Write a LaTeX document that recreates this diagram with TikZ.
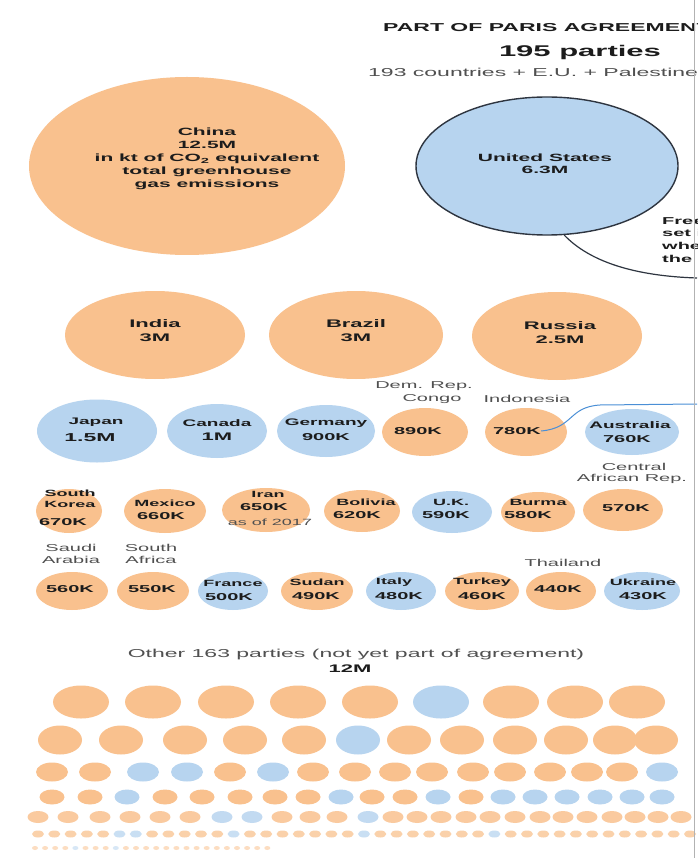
\documentclass[tikz,border=0pt]{standalone}
\usepackage{fontspec}
\setmainfont{Liberation Sans}[FakeStretch=2.0]
\usetikzlibrary{shapes.geometric}
\definecolor{cO}{HTML}{F9C18E}
\definecolor{cB}{HTML}{B7D4EF}
\definecolor{ink}{HTML}{1C1C1C}
\definecolor{grayt}{HTML}{505050}
\definecolor{edgeC}{HTML}{2E3540}
\definecolor{calloutB}{HTML}{4A8FD6}
\tikzset{
  ell/.style={ellipse, inner sep=0pt, draw=none},
  po/.style={ell, fill=cO},
  pb/.style={ell, fill=cB},
  lab/.style={align=center, text=ink, inner sep=0pt},
  nm/.style={lab, font=\fontsize{9}{10}\selectfont\bfseries},
  vl/.style={lab, font=\fontsize{10}{11}\selectfont\bfseries},
  ol/.style={align=center, text=grayt, inner sep=0pt, font=\fontsize{10}{12}\selectfont},
}
\begin{document}
\begin{tikzpicture}[x=1pt,y=-1pt]
\useasboundingbox (0,0) rectangle (697,858);
\fill[white] (0,0) rectangle (697,858);
\begin{scope}
\clip (0,0) rectangle (697,858);
% header
\node[anchor=west, text=ink, inner sep=0pt, font=\fontsize{11.5}{13}\selectfont\bfseries] (title) at (383,28) {PART OF PARIS AGREEMENT};
\node[text=ink, inner sep=0pt, font=\fontsize{15.5}{17}\selectfont\bfseries] (parties) at (580,52) {195 parties};
\node[anchor=west, text=grayt, inner sep=0pt, font=\fontsize{11.5}{13}\selectfont] (sub) at (368,72) {193 countries + E.U. + Palestine};

% China
\node[po, minimum width=316, minimum height=178] (china) at (187,166) {};
\node[lab, font=\fontsize{10.5}{13}\selectfont\bfseries] (chinaL) at (207,159) {China\\12.5M\\in kt of CO\textsubscript{2} equivalent\\total greenhouse\\gas emissions};

% United States
\node[pb, draw=edgeC, line width=1.4pt, minimum width=262, minimum height=138] (us) at (547,166) {};
\node[lab, font=\fontsize{10.5}{12}\selectfont\bfseries] (usL) at (545,164) {United States\\6.3M};
\coordinate (usnote) at (697,278);
\draw[edgeC, line width=1.2pt] (us.-76) .. controls (590,262) and (635,276) .. (usnote);
\node[anchor=north west, align=left, text=ink, inner sep=0pt, font=\fontsize{10}{12.8}\selectfont\bfseries] (noteL) at (662,217) {Free to\\set its\\when it\\the deal};

% row 2
\node[po, minimum width=180, minimum height=88] (india) at (155,335) {};
\node[lab, font=\fontsize{11}{14}\selectfont\bfseries] (indiaL) at (155,331) {India\\3M};
\node[po, minimum width=174, minimum height=88] (brazil) at (356,335) {};
\node[lab, font=\fontsize{11}{14}\selectfont\bfseries] (brazilL) at (356,331) {Brazil\\3M};
\node[po, minimum width=170, minimum height=88] (russia) at (557,336) {};
\node[lab, font=\fontsize{11}{14}\selectfont\bfseries] (russiaL) at (560,333) {Russia\\2.5M};

% row 3
\node[pb, minimum width=120, minimum height=63] (japan) at (97,431) {};
\node[nm, font=\fontsize{9.5}{11}\selectfont\bfseries] (japanN) at (96,422) {Japan};
\node[vl, font=\fontsize{11.5}{12}\selectfont\bfseries] (japanV) at (90,438) {1.5M};
\node[pb, minimum width=100, minimum height=54] (canada) at (217,431) {};
\node[nm, font=\fontsize{9.5}{11}\selectfont\bfseries] (canadaN) at (217,423) {Canada};
\node[vl, font=\fontsize{11}{12}\selectfont\bfseries] (canadaV) at (217,437) {1M};
\node[pb, minimum width=98, minimum height=52] (germany) at (326,431) {};
\node[nm, font=\fontsize{9.5}{11}\selectfont\bfseries] (germanyN) at (326,423) {Germany};
\node[vl] (germanyV) at (326,437) {900K};
\node[po, minimum width=86, minimum height=48] (drc) at (425,432) {};
\node[vl] (drcV) at (418,431) {890K};
\node[po, minimum width=82, minimum height=48] (indo) at (526,432) {};
\node[vl] (indoV) at (517,431) {780K};
\node[pb, minimum width=94, minimum height=46] (austr) at (632,432) {};
\node[nm, font=\fontsize{9.5}{11}\selectfont\bfseries] (austrN) at (630,425) {Australia};
\node[vl] (austrV) at (627,439) {760K};
\node[ol] (drcT) at (424,386) {Dem. Rep.};
\node[ol] (drcT2) at (432,399) {Congo};
\node[ol] (indoT) at (527,399) {Indonesia};
\coordinate (indonote) at (697,404);
\draw[calloutB, line width=1pt] (indoV.east) .. controls (574,428) and (568,407) .. (600,405) -- (indonote);

% row 4
\node[po, minimum width=66, minimum height=44] (skorea) at (69,511) {};
\node[nm, font=\fontsize{9}{11.5}\selectfont\bfseries] (skoreaN) at (70,499) {South\\Korea};
\node[vl] (skoreaV) at (63,522) {670K};
\node[po, minimum width=82, minimum height=44] (mexico) at (165,511) {};
\node[nm] (mexicoN) at (165,503) {Mexico};
\node[vl] (mexicoV) at (161,516) {660K};
\node[po, minimum width=88, minimum height=44] (iran) at (266,510) {};
\node[nm] (iranN) at (268,494) {Iran};
\node[vl] (iranV) at (264,507) {650K};
\node[ol, font=\fontsize{9}{11}\selectfont] (iranT) at (270,522) {as of 2017};
\node[po, minimum width=76, minimum height=42] (bolivia) at (362,511) {};
\node[nm] (boliviaN) at (366,502) {Bolivia};
\node[vl] (boliviaV) at (357,515) {620K};
\node[pb, minimum width=80, minimum height=42] (uk) at (452,512) {};
\node[nm] (ukN) at (451,502) {U.K.};
\node[vl] (ukV) at (446,515) {590K};
\node[po, minimum width=74, minimum height=40] (burma) at (538,512) {};
\node[nm] (burmaN) at (538,502) {Burma};
\node[vl] (burmaV) at (528,515) {580K};
\node[po, minimum width=80, minimum height=42] (car) at (623,510) {};
\node[vl] (carV) at (626,508) {570K};
\node[ol] (carT) at (634,467) {Central};
\node[ol] (carT2) at (632,479) {African Rep.};

% row 5
\node[ol] (saudiT) at (71,554) {Saudi\\Arabia};
\node[ol] (safT) at (151,554) {South\\Africa};
\node[ol] (thaiT) at (563,563) {Thailand};
\node[po, minimum width=72, minimum height=38] (saudi) at (72,591) {};
\node[vl] (saudiV) at (70,589) {560K};
\node[po, minimum width=72, minimum height=38] (saf) at (153,591) {};
\node[vl] (safV) at (152,589) {550K};
\node[pb, minimum width=70, minimum height=38] (france) at (233,591) {};
\node[nm] (franceN) at (233,583) {France};
\node[vl] (franceV) at (229,597) {500K};
\node[po, minimum width=72, minimum height=38] (sudan) at (317,591) {};
\node[nm] (sudanN) at (317,582) {Sudan};
\node[vl] (sudanV) at (316,596) {490K};
\node[pb, minimum width=70, minimum height=38] (italy) at (401,591) {};
\node[nm] (italyN) at (394,582) {Italy};
\node[vl] (italyV) at (399,596) {480K};
\node[po, minimum width=74, minimum height=38] (turkey) at (482,591) {};
\node[nm] (turkeyN) at (482,582) {Turkey};
\node[vl] (turkeyV) at (482,596) {460K};
\node[po, minimum width=70, minimum height=38] (thai) at (561,591) {};
\node[vl] (thaiV) at (558,589) {440K};
\node[pb, minimum width=76, minimum height=38] (ukraine) at (642,591) {};
\node[nm] (ukraineN) at (643,582) {Ukraine};
\node[vl] (ukraineV) at (643,596) {430K};

% others
\node[text=grayt, inner sep=0pt, font=\fontsize{11.5}{13}\selectfont] (otherT) at (356,655) {Other 163 parties (not yet part of agreement)};
\node[text=ink, inner sep=0pt, font=\fontsize{11}{13}\selectfont\bfseries] (otherV) at (350,669) {12M};

\foreach \x/\c [count=\i] in {81/O,153/O,226/O,298/O,370/O,441/B,511/O,575/O,637/O}
  \node[ell, fill=c\c, minimum width=56, minimum height=33] (ra\i) at (\x,702) {};
\foreach \x/\c [count=\i] in {60/O,121/O,185/O,245/O,304/O,358/B,409/O,462/O,515/O,566/O,615/O,656/O}
  \node[ell, fill=c\c, minimum width=44, minimum height=29] (rb\i) at (\x,740) {};
\foreach \x/\c [count=\i] in {52/O,95/O,143/B,187/B,230/O,273/B,313/O,355/O,395/O,432/O,473/O,510/O,550/O,587/O,622/O,662/B}
  \node[ell, fill=c\c, minimum width=32, minimum height=19] (rc\i) at (\x,772) {};
\foreach \x/\c [count=\i] in {52/O,90/O,127/B,165/O,202/O,240/O,275/O,308/O,341/B,372/O,405/O,438/B,471/O,503/B,535/B,567/B,600/B,632/B,662/B}
  \node[ell, fill=c\c, minimum width=25, minimum height=15] (rd\i) at (\x,797) {};
\foreach \x/\c [count=\i] in {38/O,68/O,100/O,130/O,160/O,190/O,222/B,252/B,282/O,310/O,337/O,368/B,393/O,417/O,441/O,466/O,490/O,515/O,540/O,563/O,587/O,612/O,635/O,658/O,681/O}
  \node[ell, fill=c\c!85!white, minimum width=21, minimum height=12] (re\i) at (\x,817) {};
\foreach \c [count=\i] in {O,O,O,O,O,B,B,O,O,O,O,O,B,O,O,O,O,O,O,O,B,O,O,O,O,O,O,O,B,O,O,O,O,O,O,O,O,O,O,O,O}
  \node[ell, fill=c\c!75!white, minimum width=12, minimum height=7] (rf\i) at ({38+(\i-1)*16.3},834) {};
\foreach \c [count=\i] in {O,O,O,O,B,O,O,O,B,O,O,O,O,O,O,O,O,O,O,O,O,O,O,O}
  \node[ell, fill=c\c!55!white, minimum width=6, minimum height=4] (rg\i) at ({35+(\i-1)*10.1},848) {};

\draw[gray!60, line width=1pt] (694.5,0) -- (694.5,858);
\end{scope}
\end{tikzpicture}
\end{document}
